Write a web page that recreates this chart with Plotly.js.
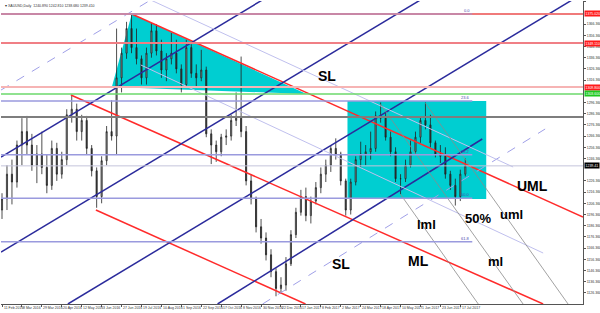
<!DOCTYPE html>
<html><head><meta charset="utf-8">
<script src="https://cdn.plot.ly/plotly-3.0.1.min.js"></script>
<style>html,body{margin:0;padding:0;background:#fff;overflow:hidden}#chart{width:600px;height:313px}</style>
</head><body><div id="chart"></div>
<script>
// ---- price data (one candle per 4 daily bars), x = bar index ----
const barIndex = [0,4,8,12,16,20,24,28,32,36,40,44,48,52,56,60,64,68,72,76,80,84,88,92,96,100,104,108,112,116,120,124,128,132,136,140,144,148,152,156,160,164,168,172,176,180,184,188,192,196,200,204,208,212,216,220,224,228,232,236,240,244,248,252,256,260,264,268,272,276,280,284,288,292,296,300,304,308,312,316,320,324,328,332,336,340,344,348,352,356,360,364,368,372];
const openP  = [1200,1210,1232,1225,1258,1270,1258,1240,1250,1238,1222,1255,1232,1245,1285,1290,1270,1280,1255,1235,1212,1244,1270,1266,1318,1340,1362,1345,1335,1318,1340,1360,1342,1325,1335,1340,1326,1312,1345,1322,1318,1325,1268,1258,1252,1265,1266,1280,1282,1270,1226,1210,1185,1175,1160,1145,1130,1133,1152,1178,1198,1212,1195,1208,1220,1232,1240,1255,1250,1226,1200,1225,1245,1250,1252,1255,1284,1282,1265,1252,1228,1228,1240,1252,1265,1280,1276,1260,1250,1248,1232,1222,1212,1232];
const highP  = [1215,1240,1245,1262,1282,1284,1268,1258,1270,1250,1262,1260,1252,1290,1303,1295,1285,1284,1258,1238,1248,1275,1298,1362,1345,1368,1375,1362,1338,1345,1367,1366,1352,1340,1358,1352,1330,1352,1348,1330,1343,1328,1272,1262,1268,1272,1285,1305,1337,1275,1232,1212,1192,1180,1165,1148,1140,1158,1182,1202,1218,1220,1212,1225,1238,1245,1258,1264,1252,1228,1228,1248,1261,1258,1270,1288,1296,1288,1270,1256,1232,1245,1262,1270,1283,1296,1285,1262,1258,1256,1235,1228,1236,1246];
const lowP   = [1192,1200,1205,1220,1240,1250,1235,1224,1232,1215,1218,1226,1228,1240,1278,1262,1262,1250,1230,1202,1206,1240,1262,1250,1305,1335,1340,1330,1312,1312,1336,1338,1318,1315,1330,1322,1305,1310,1318,1310,1315,1265,1241,1243,1248,1258,1262,1275,1265,1222,1205,1180,1170,1155,1140,1123,1125,1128,1150,1175,1195,1190,1188,1205,1215,1225,1234,1245,1222,1195,1196,1222,1238,1240,1245,1252,1278,1262,1248,1225,1214,1225,1238,1250,1260,1272,1256,1247,1242,1228,1218,1204,1208,1230];
const closeP = [1210,1232,1225,1258,1270,1258,1240,1250,1238,1222,1255,1232,1245,1285,1290,1270,1280,1255,1235,1212,1244,1270,1266,1318,1340,1362,1345,1335,1318,1340,1360,1342,1325,1335,1340,1326,1312,1345,1322,1318,1325,1268,1258,1252,1265,1266,1280,1282,1270,1226,1210,1185,1175,1160,1145,1130,1133,1152,1178,1198,1212,1195,1208,1220,1232,1240,1255,1250,1226,1200,1225,1245,1250,1252,1255,1284,1282,1265,1252,1228,1228,1240,1252,1265,1280,1276,1260,1250,1248,1232,1222,1212,1232,1239.41];

// ---- axis ticks ----
const dateTickBars = [0,16,32,48,64,80,96,112,128,144,160,176,192,208,224,240,256,272,288,304,320,336,352,368];
const dateTickLabels = ["11 Feb 2016","8 Mar 2016","29 Mar 2016","20 Apr 2016","12 May 2016","3 Jun 2016","27 Jun 2016","19 Jul 2016","10 Aug 2016","1 Sep 2016","22 Sep 2016","17 Oct 2016","8 Nov 2016","30 Nov 2016","22 Dec 2016","17 Jan 2017","8 Feb 2017","2 Mar 2017","24 Mar 2017","18 Apr 2017","10 May 2017","1 Jun 2017","23 Jun 2017","17 Jul 2017"];
const priceTicks = [1116,1126,1136,1146,1156,1166,1176,1186,1196,1206,1216,1226,1246,1256,1266,1276,1286,1296,1316,1326,1336,1346,1356,1366,1386];
const priceTickLabels = ["1116.360","1126.360","1136.360","1146.360","1156.360","1166.360","1176.360","1186.360","1196.360","1206.360","1216.360","1226.360","1246.360","1256.360","1266.360","1276.360","1286.360","1296.360","1316.360","1326.360","1336.360","1346.360","1356.360","1366.360","1386.360"];

// ---- horizontal levels ----
const redLevels = [1375.0, 1349.1, 1309.8];
const redLevelLabels = ["1375.020","1349.110","1309.800"];
const greenLevel = 1303.6, greenLabel = "1303.600";
const greyLevel = 1283.0;
const lastPrice = 1239.41, lastPriceLabel = "1239.41";
const fibLevels = [1375.0, 1297.4, 1249.3, 1210.5, 1171.7];
const fibNames  = ["0.0","23.6","38.2","50.0","61.8"];

const XMIN = -0.8, XMAX = 466.5, YMIN = 1116.1, YMAX = 1386.6;

// ---- drawn objects (bar index, price) ----
const trendLines = [
  {x:[104.2,466.5], y:[1375,1193.75], c:'#ff2b2b', w:1.5, d:'solid'},   // UML
  {x:[55.3,434.5],  y:[1302.7,1116.1], c:'#ff2b2b', w:1.5, d:'solid'},  // ML
  {x:[75.4,243.7],  y:[1200.0,1116.1], c:'#ff2b2b', w:1.5, d:'solid'},  // lower
  {x:[-0.8,209.0],  y:[1247.3,1387.5], c:'#2b2b9c', w:1.5, d:'solid'},
  {x:[-0.8,335.9],  y:[1162.5,1387.5], c:'#2b2b9c', w:1.5, d:'solid'},
  {x:[52.9,457.7],  y:[1116.1,1387.5], c:'#2b2b9c', w:1.5, d:'solid'},
  {x:[173.1,385.6], y:[1116.1,1263.4], c:'#2b2b9c', w:1.5, d:'solid'},
  {x:[-0.8,119.4],  y:[1307.1,1387.5], c:'#a0a0e8', w:1, d:'dash'},
  {x:[209.2,436.1], y:[1116.1,1272.3], c:'#a0a0e8', w:1, d:'dash'},
  {x:[119.4,410.4], y:[1387.5,1238.4], c:'#c0c0ee', w:1, d:'solid'},
  {x:[111.4,434.5], y:[1329.5,1161.6], c:'#c0c0ee', w:1, d:'solid'},
  {x:[339.9,454.5], y:[1295.5,1116.1], c:'#8a8a8a', w:0.8, d:'solid'},
  {x:[303.8,418.4], y:[1294.6,1116.1], c:'#8a8a8a', w:0.8, d:'solid'},
  {x:[319.8,382.4], y:[1214.3,1116.1], c:'#8a8a8a', w:0.8, d:'solid'}
];
const triangleZone = {x:[88.2,104.2,244.5], y:[1309.8,1375,1303.6]};
const boxZone = {x0:277.4, x1:388.8, y0:1209.8, y1:1297.4};
const fibEnd = 377.6;

const textLabels = [
  {t:'SL',  x:261.3, y:1319.6, s:14},
  {t:'UML', x:425.7, y:1221.4, s:14},
  {t:'lml', x:340.7, y:1187.5, s:13},
  {t:'50%', x:382.4, y:1192.0, s:13},
  {t:'uml', x:408.8, y:1196.4, s:13},
  {t:'ML',  x:334.3, y:1154.5, s:14},
  {t:'ml',  x:396.0, y:1153.6, s:13},
  {t:'SL',  x:272.5, y:1151.8, s:14}
];

// ---- build ----
const traces = [{
  type:'candlestick', x:barIndex, open:openP, high:highP, low:lowP, close:closeP,
  increasing:{line:{color:'#222',width:0.8}, fillcolor:'#a8a8a8'},
  decreasing:{line:{color:'#222',width:0.8}, fillcolor:'#333'},
  whiskerwidth:0, hoverinfo:'skip', showlegend:false
}];
trendLines.forEach(l => traces.push({type:'scatter', mode:'lines', x:l.x, y:l.y,
  line:{color:l.c, width:l.w, dash:l.d}, hoverinfo:'skip', showlegend:false}));

const shapes = [];
shapes.push({type:'path', xref:'x', yref:'y', layer:'below',
  path:`M ${triangleZone.x[0]},${triangleZone.y[0]} L ${triangleZone.x[1]},${triangleZone.y[1]} L ${triangleZone.x[2]},${triangleZone.y[2]} Z`,
  fillcolor:'#00CED1', line:{width:0}});
shapes.push({type:'rect', xref:'x', yref:'y', layer:'below', x0:boxZone.x0, x1:boxZone.x1, y0:boxZone.y0, y1:boxZone.y1,
  fillcolor:'#00CED1', line:{width:0}});
const hline = (y,c,w,x1,op) => ({type:'line', xref:'x', yref:'y', x0:XMIN, x1:x1===undefined?XMAX:x1, y0:y, y1:y, line:{color:c,width:w}, opacity:op||1});
shapes.push(hline(redLevels[0], '#f07a7a', 2));
shapes.push(hline(redLevels[1], '#f07f85', 2));
shapes.push(hline(redLevels[2], '#f6b4b4', 2));
shapes.push(hline(greenLevel, '#6bd86b', 1.5));
shapes.push(hline(greyLevel, '#7e7e7e', 2));
shapes.push(hline(lastPrice, '#c4c4dc', 1));
fibLevels.forEach((f,i) => shapes.push(hline(f, '#9a9ade', 1.5, fibEnd, i===0?0.6:1)));

const annotations = [];
textLabels.forEach(a => annotations.push({x:a.x, y:a.y, xref:'x', yref:'y', text:a.t, showarrow:false,
  font:{family:'Liberation Sans, Arial, sans-serif', size:a.s, color:'#000', weight:'bold'}}));
fibLevels.forEach((f,i) => annotations.push({x:fibEnd, y:f, xref:'x', yref:'y', text:fibNames[i], showarrow:false,
  xanchor:'right', yanchor:'bottom', yshift:-1, font:{family:'Liberation Sans, Arial', size:4, color:'#4a4ab0'}}));
const box = (y,txt,bg,fg) => ({x:1, xref:'paper', y:y, yref:'y', xanchor:'left', xshift:1, text:txt, showarrow:false,
  bgcolor:bg, borderpad:0.5, font:{family:'Liberation Sans, Arial', size:3.5, color:fg}});
redLevels.forEach((r,i) => annotations.push(box(r, redLevelLabels[i], '#ff1a1a', '#fff')));
annotations.push(box(greenLevel, greenLabel, '#1ec81e', '#fff'));
annotations.push(box(lastPrice, lastPriceLabel, '#000', '#fff'));
annotations.push({x:0, xref:'paper', y:1, yref:'paper', xanchor:'left', yanchor:'top', xshift:2, yshift:-1,
  text:'▾ XAUUSD,Daily  1240.890 1242.810 1238.680 1239.410', showarrow:false,
  font:{family:'Liberation Sans, Arial', size:3.5, color:'#333'}});
// date labels, MT4-style: starting just right of each tick
dateTickBars.forEach((b,i) => annotations.push({x:b, xref:'x', y:0, yref:'paper', xanchor:'left', yanchor:'top',
  xshift:0.5, yshift:-0.5, text:dateTickLabels[i], showarrow:false, borderpad:0,
  font:{family:'Liberation Sans, Arial', size:3.5, color:'#333'}}));

const layout = {
  width:600, height:313, margin:{l:1, r:17, t:1, b:9}, paper_bgcolor:'#fff', plot_bgcolor:'#fff',
  showlegend:false, dragmode:false, boxgap:0.68,
  xaxis:{type:'linear', range:[XMIN,XMAX], rangeslider:{visible:false}, showgrid:false, zeroline:false,
    showline:true, linecolor:'#555', linewidth:1, ticks:'outside', ticklen:2, tickcolor:'#555',
    tickvals:dateTickBars, showticklabels:false, fixedrange:true},
  yaxis:{range:[YMIN,YMAX], side:'right', showgrid:false, zeroline:false,
    showline:true, linecolor:'#555', linewidth:1, ticks:'outside', ticklen:2, tickcolor:'#555',
    tickvals:priceTicks, ticktext:priceTickLabels,
    tickfont:{family:'Liberation Sans, Arial', size:3.5, color:'#333'}, fixedrange:true},
  shapes:shapes, annotations:annotations
};
Plotly.newPlot('chart', traces, layout, {staticPlot:true, displayModeBar:false});
</script></body></html>
